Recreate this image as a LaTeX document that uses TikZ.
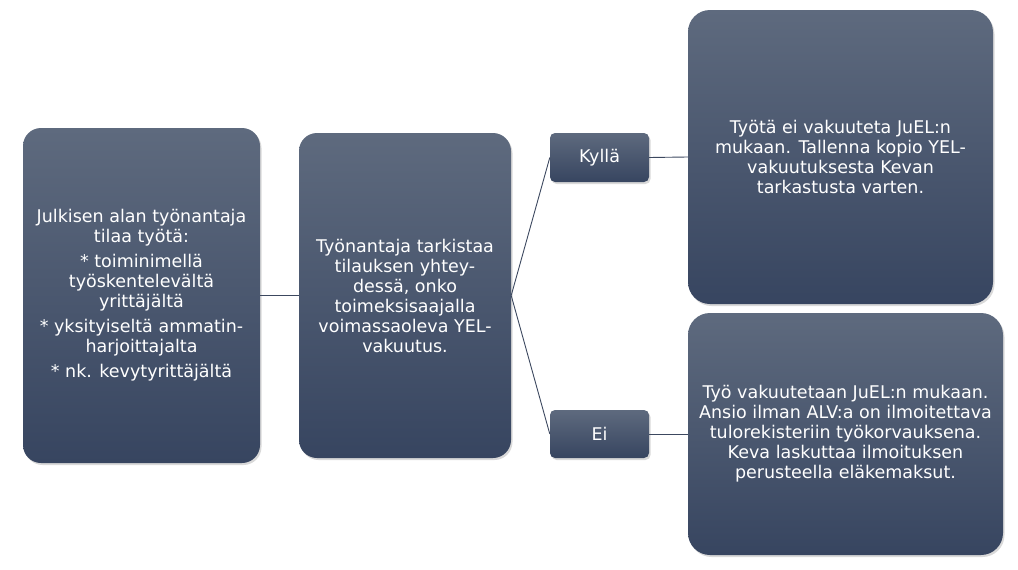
\documentclass[tikz,border=0pt]{standalone}
\usepackage{fontspec}
\setmainfont{DejaVu Sans}
\usetikzlibrary{shadows}
\definecolor{boxtop}{RGB}{94,106,126}
\definecolor{boxbot}{RGB}{55,69,96}
\definecolor{linec}{RGB}{60,72,95}
\begin{document}
\begin{tikzpicture}[x=1pt,y=-1pt,
 box/.style={draw=none, top color=boxtop, bottom color=boxbot, text=white, align=center,
   font=\fontsize{17.5}{20}\selectfont, inner sep=0pt,
   drop shadow={opacity=0.3, shadow xshift=1.5pt, shadow yshift=-2pt}},
 conn/.style={draw=linec, line width=0.9pt}]
\useasboundingbox (0,0) rectangle (1018,570);
\node[box, rounded corners=18pt, minimum width=237pt, minimum height=335pt] (a) at (141.5,295.5)
 {Julkisen alan työnantaja\\ tilaa työtä:\\[5pt] * toiminimellä\\ työskentelevältä\\ yrittäjältä\\[5pt] * yksityiseltä ammatin-\\ harjoittajalta\\[5pt] * nk. kevytyrittäjältä};
\node[box, rounded corners=18pt, minimum width=212pt, minimum height=325pt] (b) at (405,295.5)
 {Työnantaja tarkistaa\\ tilauksen yhtey-\\ dessä, onko\\ toimeksisaajalla\\ voimassaoleva YEL-\\ vakuutus.};
\node[box, rounded corners=5pt, minimum width=99pt, minimum height=49pt] (k) at (599.5,157.5) {Kyllä};
\node[box, rounded corners=5pt, minimum width=99pt, minimum height=48pt] (e) at (599.5,434) {Ei};
\node[box, rounded corners=22pt, minimum width=305pt, minimum height=294pt] (c) at (840.5,157) 
 {Työtä ei vakuuteta JuEL:n\\ mukaan. Tallenna kopio YEL-\\ vakuutuksesta Kevan\\ tarkastusta varten.};
\node[box, rounded corners=22pt, minimum width=315pt, minimum height=242pt] (d) at (845.5,434)
 {Työ vakuutetaan JuEL:n mukaan.\\ Ansio ilman ALV:a on ilmoitettava\\ tulorekisteriin työkorvauksena.\\ Keva laskuttaa ilmoituksen\\ perusteella eläkemaksut.};
\draw[conn] (a.east) -- (b.west);
\draw[conn] (b.east) -- (k.west);
\draw[conn] (b.east) -- (e.west);
\draw[conn] (k.east) -- (c.west);
\draw[conn] (e.east) -- (d.west);
\end{tikzpicture}
\end{document}
